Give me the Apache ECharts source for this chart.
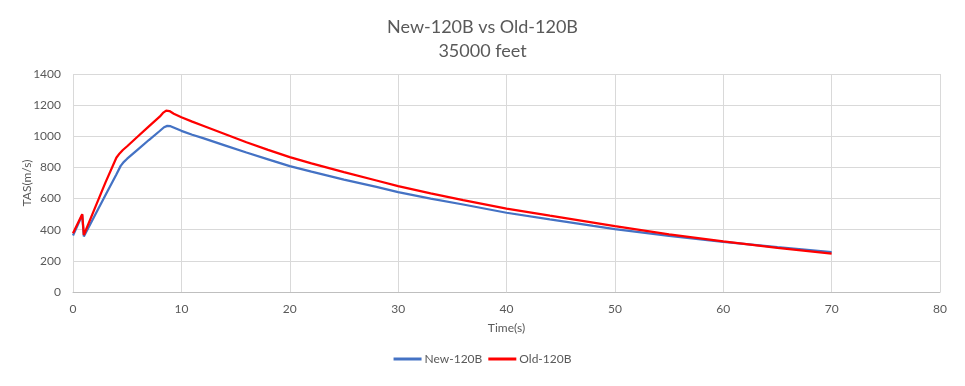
<!DOCTYPE html>
<html><head><meta charset="utf-8">
<script src="https://cdn.jsdelivr.net/npm/echarts@6/dist/echarts.min.js"></script>
<style>html,body{margin:0;padding:0;background:#fff}#c{width:965px;height:386px}</style>
</head><body><div id="c"></div>
<script>
var titleLines = ['New-120B vs Old-120B', '35000 feet'];
var seriesNames = ['New-120B', 'Old-120B'];
var timeNew = [0, 0.85, 1.0, 2, 3, 4, 4.4, 4.7, 5, 6, 7, 8, 8.4, 8.7, 9.0, 9.5, 10, 11, 12, 14, 16, 18, 20, 22, 25, 28, 30, 33, 36, 40, 44, 48, 50, 55, 60, 65, 70];
var valNew  = [363, 495, 357, 490, 623, 755, 810, 836, 856, 916, 976, 1034, 1058, 1067, 1065, 1050, 1035, 1010, 988, 942, 896, 852, 808, 773, 722, 675, 641, 600, 562, 509, 466, 424, 404, 360, 322, 288, 256];
var timeOld = [0, 0.85, 1.0, 2, 3, 4, 4.3, 4.6, 5, 6, 7, 8, 8.3, 8.6, 8.9, 9.3, 10, 11, 12, 14, 16, 18, 20, 22, 25, 28, 30, 33, 36, 40, 44, 48, 50, 55, 60, 65, 70];
var valOld  = [378, 500, 366, 535, 704, 862, 890, 912, 936, 1000, 1064, 1126, 1150, 1165, 1162, 1145, 1122, 1094, 1068, 1015, 962, 913, 866, 826, 770, 716, 680, 633, 590, 535, 490, 446, 423, 370, 325, 284, 247];
var xTicks = {min: 0, max: 80, interval: 10};
var yTicks = {min: 0, max: 1400, interval: 200};

function pairs(t, v){ return t.map(function(x,i){ return [x, v[i]]; }); }
var font = 'Lato, "Open Sans", "Liberation Sans", sans-serif';
var chart = echarts.init(document.getElementById('c'), null, {renderer: 'canvas'});
chart.setOption({
  animation: false,
  backgroundColor: '#fff',
  title: {
    text: titleLines.join('\n'),
    left: 'center', top: 10,
    textStyle: {fontFamily: font, fontSize: 18, fontWeight: 'normal', color: '#595959', lineHeight: 24}
  },
  legend: {
    data: seriesNames, bottom: 16, left: 'center', itemWidth: 28, itemHeight: 3, itemGap: 6,
    icon: 'rect',
    textStyle: {fontFamily: font, fontSize: 12, color: '#595959', padding: [0, 0, 0, -2]}
  },
  grid: {left: 73, right: 25, top: 74, bottom: 94},
  xAxis: {
    type: 'value', min: xTicks.min, max: xTicks.max, interval: xTicks.interval,
    name: 'Time(s)', nameLocation: 'middle', nameGap: 30,
    nameTextStyle: {fontFamily: font, fontSize: 12, color: '#595959'},
    axisLine: {lineStyle: {color: '#bfbfbf'}}, axisTick: {show: false},
    axisLabel: {fontFamily: font, fontSize: 12, color: '#595959', margin: 11},
    splitLine: {show: true, lineStyle: {color: '#d9d9d9'}}
  },
  yAxis: {
    type: 'value', min: yTicks.min, max: yTicks.max, interval: yTicks.interval,
    name: 'TAS(m/s)', nameLocation: 'middle', nameGap: 40, nameMoveOverlap: false,
    nameTextStyle: {fontFamily: font, fontSize: 12, color: '#595959'},
    axisLine: {show: false}, axisTick: {show: false},
    axisLabel: {fontFamily: font, fontSize: 12, color: '#595959', margin: 12, formatter: function(v){ return String(v); }},
    splitLine: {show: true, lineStyle: {color: '#d9d9d9'}}
  },
  series: [
    {name: seriesNames[0], type: 'line', data: pairs(timeNew, valNew), showSymbol: false, smooth: false,
     lineStyle: {color: '#4472C4', width: 2.25}, itemStyle: {color: '#4472C4'}},
    {name: seriesNames[1], type: 'line', data: pairs(timeOld, valOld), showSymbol: false, smooth: false,
     lineStyle: {color: '#FF0000', width: 2.25}, itemStyle: {color: '#FF0000'}}
  ]
});
</script></body></html>
